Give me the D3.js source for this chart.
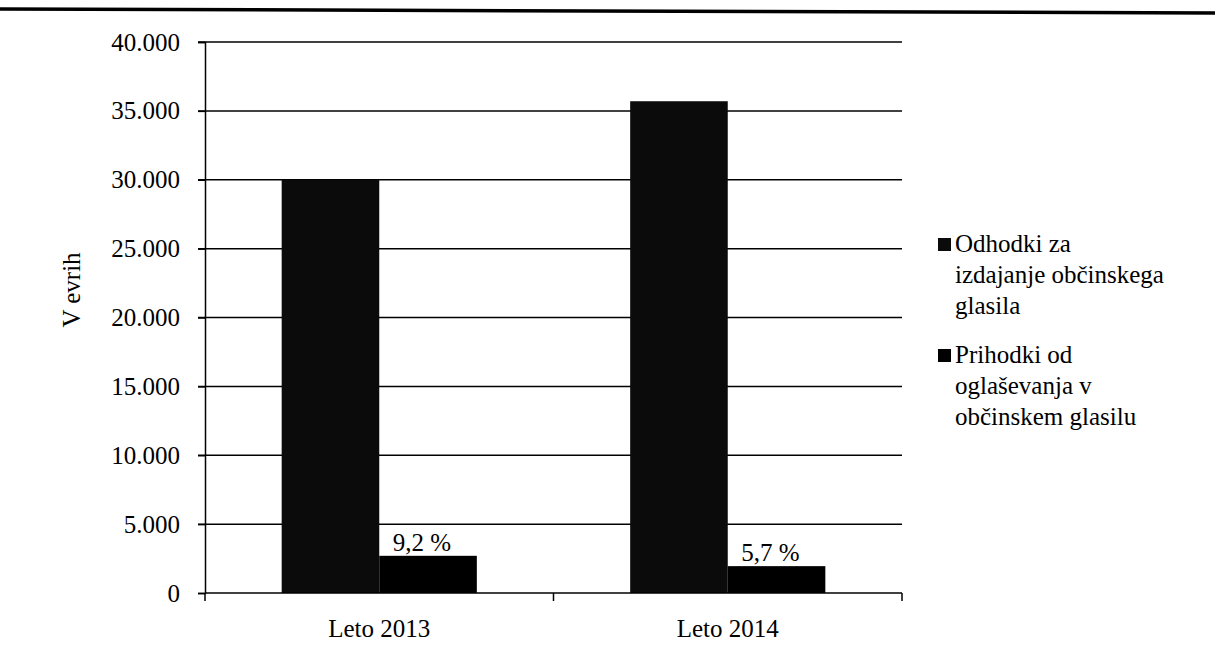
<!DOCTYPE html>
<html>
<head>
<meta charset="utf-8">
<script src="https://cdn.jsdelivr.net/npm/d3@7"></script>
<style>
  body { margin: 0; background: #fff; }
</style>
</head>
<body>
<script>
// data
var categories = ["Leto 2013", "Leto 2014"];
var seriesNames = ["Odhodki za izdajanje občinskega glasila", "Prihodki od oglaševanja v občinskem glasilu"];
var odhodki = [30000, 35700];
var prihodki = [2700, 1950];
var shareLabels = ["9,2 %", "5,7 %"];
var yTicks = [0, 5000, 10000, 15000, 20000, 25000, 30000, 35000, 40000];
var legendLines = [["Odhodki za", "izdajanje občinskega", "glasila"],
                   ["Prihodki od", "oglaševanja v", "občinskem glasilu"]];
var colors = ["#0b0b0b", "#000"];

var FONT = "'Liberation Serif', 'DejaVu Serif', serif";

var svg = d3.select("body").append("svg")
    .attr("width", 1215).attr("height", 657)
    .style("font-family", FONT);

// thick rule across the top of the page
svg.append("line")
    .attr("x1", 0).attr("y1", 9).attr("x2", 1215).attr("y2", 13)
    .attr("stroke", "#000").attr("stroke-width", 3.5);

var plotLeft = 205, plotRight = 902, plotTop = 42, plotBottom = 593;
var fs = "25px";

var y = d3.scaleLinear().domain([0, 40000]).range([plotBottom, plotTop]);
var x0 = d3.scaleBand().domain(categories).range([plotLeft, plotRight])
    .paddingInner(0.44).paddingOuter(0.22);
var x1 = d3.scaleBand().domain([0, 1]).range([0, x0.bandwidth()]);

var fmt = function(d){ return d === 0 ? "0" : d3.format(",")(d).replace(/,/g, "."); };

// gridlines
svg.append("g").selectAll("line")
    .data(yTicks.filter(function(d){ return d > 0; }))
    .enter().append("line")
    .attr("x1", plotLeft - 7).attr("x2", plotRight)
    .attr("y1", function(d){ return y(d); })
    .attr("y2", function(d){ return y(d); })
    .attr("stroke", "#000").attr("stroke-width", 1.5);

// y axis
var yAxis = svg.append("g").attr("transform", "translate(" + plotLeft + ",0)")
    .call(d3.axisLeft(y).tickValues(yTicks).tickFormat(fmt).tickSize(7).tickPadding(18));
yAxis.attr("font-family", null).attr("font-size", null);
yAxis.select(".domain").attr("stroke-width", 1.5);
yAxis.selectAll(".tick line").attr("stroke-width", 1.5);
yAxis.selectAll("text").style("font-size", fs).style("font-family", FONT).attr("fill", "#000");

// bars
var groups = svg.append("g").selectAll("g")
    .data(categories).enter().append("g")
    .attr("transform", function(d){ return "translate(" + x0(d) + ",0)"; });

groups.append("rect")
    .attr("x", x1(0)).attr("width", x1.bandwidth())
    .attr("y", function(d, i){ return y(odhodki[i]); })
    .attr("height", function(d, i){ return plotBottom - y(odhodki[i]); })
    .attr("fill", colors[0]);

groups.append("rect")
    .attr("x", x1(1)).attr("width", x1.bandwidth())
    .attr("y", function(d, i){ return y(prihodki[i]); })
    .attr("height", function(d, i){ return plotBottom - y(prihodki[i]); })
    .attr("fill", colors[1]);

groups.append("text")
    .attr("x", x1(1) + x1.bandwidth() / 2 - 6)
    .attr("y", function(d, i){ return y(prihodki[i]) - 5; })
    .attr("text-anchor", "middle")
    .style("font-size", fs).style("font-family", FONT)
    .text(function(d, i){ return shareLabels[i]; });

// x axis
var xAxis = svg.append("g").attr("transform", "translate(0," + plotBottom + ")");
xAxis.append("line").attr("x1", plotLeft).attr("x2", plotRight)
    .attr("stroke", "#000").attr("stroke-width", 1.5);
xAxis.selectAll("line.tk")
    .data([plotLeft, plotLeft + x0.step(), plotRight]).enter().append("line")
    .attr("class", "tk")
    .attr("x1", function(d){ return d; }).attr("x2", function(d){ return d; })
    .attr("y1", 0).attr("y2", 8)
    .attr("stroke", "#000").attr("stroke-width", 1.5);
xAxis.selectAll("text")
    .data(categories).enter().append("text")
    .attr("x", function(d){ return x0(d) + x0.bandwidth() / 2; })
    .attr("y", 44)
    .attr("text-anchor", "middle")
    .style("font-size", fs).style("font-family", FONT)
    .text(function(d){ return d; });

// y axis title
svg.append("text")
    .attr("transform", "translate(80,290) rotate(-90)")
    .attr("text-anchor", "middle")
    .style("font-size", fs).style("font-family", FONT)
    .text("V evrih");

// legend
var legend = svg.append("g").selectAll("g")
    .data(seriesNames).enter().append("g")
    .attr("transform", function(d, i){ return "translate(938," + (252 + i * 111) + ")"; });
legend.append("rect")
    .attr("x", 0).attr("y", -14).attr("width", 13).attr("height", 13)
    .attr("fill", function(d, i){ return colors[i]; });
legend.append("text")
    .style("font-size", fs).style("font-family", FONT)
    .selectAll("tspan")
    .data(function(d, i){ return legendLines[i]; })
    .enter().append("tspan")
    .attr("x", 17)
    .attr("dy", function(d, j){ return j === 0 ? 0 : 31; })
    .text(function(d){ return d; });
</script>
</body>
</html>
